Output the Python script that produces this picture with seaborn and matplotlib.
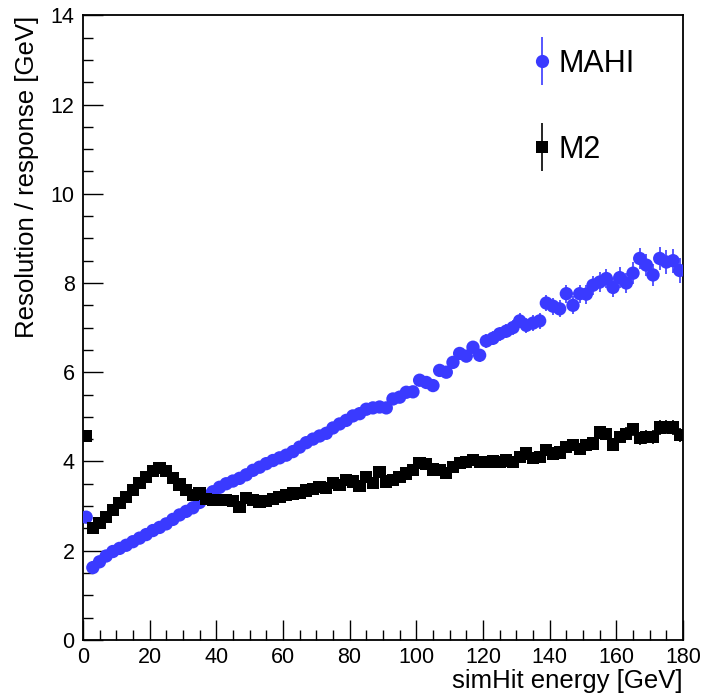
import matplotlib
matplotlib.use("Agg")
import matplotlib.pyplot as plt
from matplotlib.lines import Line2D
from matplotlib.legend_handler import HandlerTuple
import seaborn as sns
import pandas as pd
import numpy as np

# ---- data (bin centres, 2 GeV bins) ----
energy = list(range(1, 180, 2))

mahi = [2.75, 1.62, 1.75, 1.88, 1.98, 2.05, 2.12, 2.20, 2.28, 2.36,
        2.45, 2.52, 2.60, 2.70, 2.80, 2.88, 2.96, 3.08, 3.22, 3.32,
        3.42, 3.50, 3.56, 3.62, 3.70, 3.80, 3.87, 3.95, 4.02, 4.08,
        4.14, 4.22, 4.32, 4.42, 4.50, 4.57, 4.63, 4.75, 4.84, 4.92,
        5.02, 5.07, 5.17, 5.20, 5.22, 5.20, 5.40, 5.44, 5.55, 5.56,
        5.82, 5.77, 5.70, 6.04, 6.00, 6.22, 6.42, 6.36, 6.56, 6.38,
        6.70, 6.76, 6.86, 6.92, 7.00, 7.15, 7.05, 7.10, 7.15, 7.55,
        7.48, 7.42, 7.76, 7.50, 7.76, 7.75, 7.95, 8.02, 8.10, 7.90,
        8.12, 8.00, 8.22, 8.55, 8.40, 8.18, 8.55, 8.47, 8.50, 8.28]

mahi_err = [0.05, 0.03, 0.03, 0.03, 0.03, 0.03, 0.03, 0.03, 0.03, 0.03,
            0.04, 0.04, 0.04, 0.04, 0.04, 0.04, 0.04, 0.05, 0.05, 0.05,
            0.05, 0.05, 0.05, 0.06, 0.06, 0.06, 0.06, 0.06, 0.07, 0.07,
            0.07, 0.07, 0.08, 0.08, 0.08, 0.08, 0.09, 0.09, 0.09, 0.09,
            0.10, 0.10, 0.10, 0.10, 0.11, 0.11, 0.11, 0.11, 0.12, 0.12,
            0.12, 0.12, 0.13, 0.13, 0.13, 0.14, 0.14, 0.14, 0.15, 0.15,
            0.15, 0.16, 0.16, 0.16, 0.17, 0.17, 0.17, 0.18, 0.18, 0.18,
            0.19, 0.19, 0.20, 0.20, 0.20, 0.21, 0.21, 0.22, 0.22, 0.22,
            0.23, 0.23, 0.24, 0.24, 0.25, 0.25, 0.26, 0.26, 0.27, 0.27]

m2 = [4.57, 2.50, 2.62, 2.76, 2.91, 3.07, 3.20, 3.36, 3.52, 3.65,
      3.79, 3.85, 3.78, 3.63, 3.48, 3.36, 3.25, 3.28, 3.15, 3.13,
      3.14, 3.13, 3.12, 2.98, 3.18, 3.14, 3.10, 3.12, 3.15, 3.20,
      3.25, 3.28, 3.30, 3.35, 3.38, 3.42, 3.40, 3.52, 3.47, 3.58,
      3.55, 3.45, 3.65, 3.52, 3.76, 3.55, 3.58, 3.65, 3.73, 3.80,
      3.97, 3.95, 3.82, 3.80, 3.74, 3.88, 3.96, 3.98, 4.03, 3.98,
      3.98, 4.00, 3.98, 4.02, 3.98, 4.10, 4.18, 4.08, 4.10, 4.26,
      4.18, 4.20, 4.32, 4.36, 4.28, 4.36, 4.40, 4.65, 4.62, 4.38,
      4.55, 4.62, 4.72, 4.52, 4.55, 4.55, 4.76, 4.77, 4.76, 4.60]

m2_err = [0.06, 0.03, 0.03, 0.03, 0.03, 0.03, 0.03, 0.03, 0.03, 0.03,
          0.03, 0.03, 0.03, 0.03, 0.03, 0.03, 0.03, 0.04, 0.04, 0.04,
          0.04, 0.04, 0.04, 0.04, 0.04, 0.04, 0.05, 0.05, 0.05, 0.05,
          0.05, 0.05, 0.05, 0.06, 0.06, 0.06, 0.06, 0.06, 0.06, 0.07,
          0.07, 0.07, 0.07, 0.07, 0.07, 0.08, 0.08, 0.08, 0.08, 0.08,
          0.08, 0.09, 0.09, 0.09, 0.09, 0.09, 0.10, 0.10, 0.10, 0.10,
          0.10, 0.10, 0.11, 0.11, 0.11, 0.11, 0.11, 0.12, 0.12, 0.12,
          0.12, 0.12, 0.13, 0.13, 0.13, 0.13, 0.13, 0.14, 0.14, 0.14,
          0.14, 0.15, 0.15, 0.15, 0.15, 0.15, 0.16, 0.16, 0.16, 0.16]

series_names = ["MAHI", "M2"]
x_ticks = [0, 20, 40, 60, 80, 100, 120, 140, 160, 180]
y_ticks = [0, 2, 4, 6, 8, 10, 12, 14]

BLUE = "#3a3aff"
BLACK = "#000000"

df = pd.concat([
    pd.DataFrame({"E": energy, "val": mahi, "err": mahi_err, "method": "MAHI"}),
    pd.DataFrame({"E": energy, "val": m2, "err": m2_err, "method": "M2"}),
])

sns.set_style("white")
plt.rcParams["font.family"] = ["Liberation Sans", "DejaVu Sans"]
plt.rcParams["text.color"] = "black"
plt.rcParams["axes.labelcolor"] = "black"
plt.rcParams["xtick.color"] = "black"
plt.rcParams["ytick.color"] = "black"

fig = plt.figure(figsize=(7.02, 6.97), dpi=100)
ax = fig.add_axes([0.118, 0.082, 0.855, 0.896])

# error bars
for name, col in zip(series_names, [BLUE, BLACK]):
    sub = df[df.method == name]
    ax.errorbar(sub.E, sub.val, yerr=sub.err, fmt="none", ecolor=col,
                elinewidth=1.2, capsize=0, zorder=2)

sns.scatterplot(data=df, x="E", y="val", hue="method", style="method",
                size="method", sizes={"MAHI": 92, "M2": 78},
                palette={"MAHI": BLUE, "M2": BLACK},
                markers={"MAHI": "o", "M2": "s"},
                linewidth=0, edgecolor="none", legend=False, ax=ax, zorder=3)

ax.set_xlim(0, 180)
ax.set_ylim(0, 14)
ax.set_xticks(x_ticks)
ax.set_yticks(y_ticks)
ax.set_xticks(np.arange(0, 181, 5), minor=True)
ax.set_yticks(np.arange(0, 14.01, 0.5), minor=True)
ax.tick_params(axis="both", which="major", direction="in", length=14.5, width=1.0,
               labelsize=15.5, bottom=True, left=True, top=False, right=False,
               colors="black")
ax.tick_params(axis="both", which="minor", direction="in", length=7.2, width=1.0,
               bottom=True, left=True, top=False, right=False, colors="black")
ax.tick_params(axis="x", pad=5)
ax.tick_params(axis="y", pad=6)
for sp in ax.spines.values():
    sp.set_linewidth(1.3)
    sp.set_color("black")

ax.set_xlabel("simHit energy [GeV]", fontsize=18.5, loc="right", labelpad=1,
              color="black")
ax.set_ylabel("Resolution / response [GeV]", fontsize=18.5, loc="top", labelpad=8,
              color="black")

# legend (ROOT style: marker with vertical error bar)
handles = []
for col, mk, ms in [(BLUE, "o", 9.5), (BLACK, "s", 8.5)]:
    bar = Line2D([], [], color=col, marker="|", markersize=35, markeredgewidth=1.2,
                 linestyle="none")
    dot = Line2D([], [], color=col, marker=mk, markersize=ms, linestyle="none",
                 markeredgewidth=0)
    handles.append((bar, dot))
leg = ax.legend(handles, series_names,
                handler_map={tuple: HandlerTuple(ndivide=1)},
                loc="upper right", bbox_to_anchor=(0.956, 0.981), frameon=False,
                fontsize=22, handlelength=0.8, handletextpad=0.17, labelspacing=1.85,
                borderaxespad=0.3)
for t in leg.get_texts():
    t.set_color("black")

fig.savefig("out.png", dpi=100, facecolor="white")
